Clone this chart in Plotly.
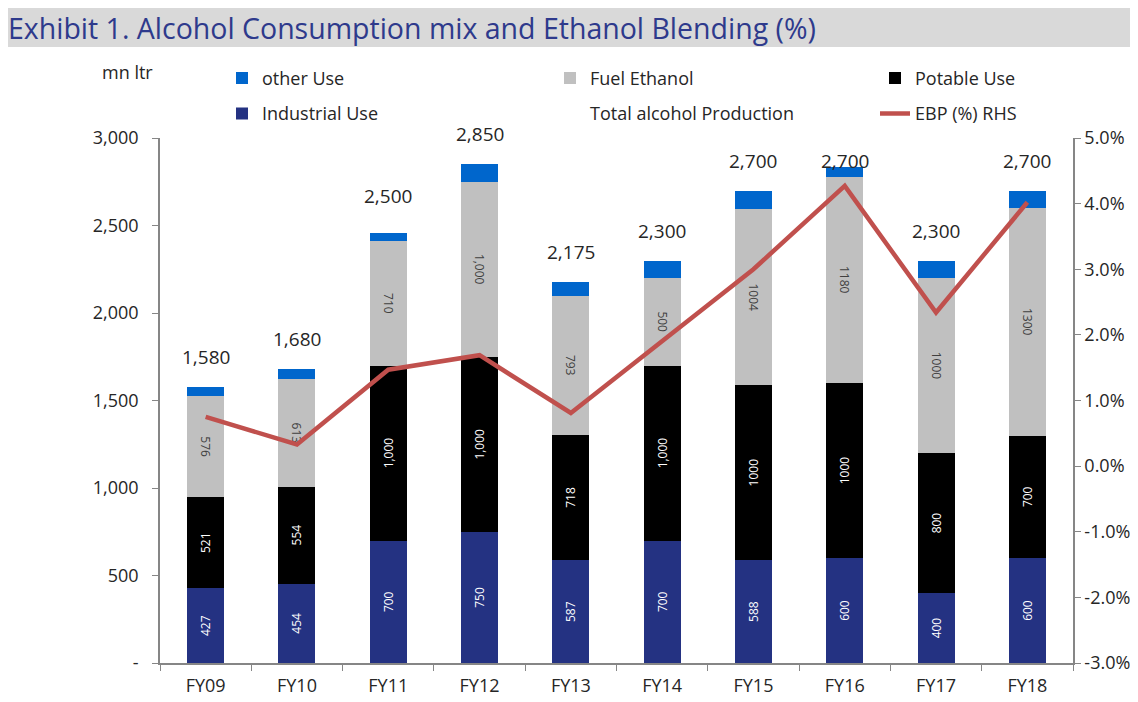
import plotly.graph_objects as go

# ---------------- data ----------------
categories = ["FY09", "FY10", "FY11", "FY12", "FY13", "FY14", "FY15", "FY16", "FY17", "FY18"]
industrial_use = [427, 454, 700, 750, 587, 700, 588, 600, 400, 600]
potable_use = [521, 554, 1000, 1000, 718, 1000, 1000, 1000, 800, 700]
fuel_ethanol = [576, 613, 710, 1000, 793, 500, 1004, 1180, 1000, 1300]
other_use = [56, 59, 45, 100, 77, 100, 108, 54, 100, 100]
total_production = [1580, 1680, 2500, 2850, 2175, 2300, 2700, 2700, 2300, 2700]
ebp_pct = [0.75, 0.33, 1.47, 1.69, 0.81, 1.91, 3.00, 4.27, 2.34, 4.02]

industrial_labels = ["427", "454", "700", "750", "587", "700", "588", "600", "400", "600"]
potable_labels = ["521", "554", "1,000", "1,000", "718", "1,000", "1000", "1000", "800", "700"]
fuel_labels = ["576", "613", "710", "1,000", "793", "500", "1004", "1180", "1000", "1300"]

left_tickvals = [0, 500, 1000, 1500, 2000, 2500, 3000]
left_ticktext = ["-", "500", "1,000", "1,500", "2,000", "2,500", "3,000"]
right_tickvals = [-3, -2, -1, 0, 1, 2, 3, 4, 5]
right_ticktext = ["-3.0%", "-2.0%", "-1.0%", "0.0%", "1.0%", "2.0%", "3.0%", "4.0%", "5.0%"]

# ---------------- styles ----------------
FONT = "Open Sans"
C_IND = "#243282"
C_POT = "#000000"
C_FUEL = "#C0C0C0"
C_OTHER = "#0066CC"
C_LINE = "#C0504D"
AXIS = "#868686"
TXT = "#262626"

fig = go.Figure()

fig.add_trace(go.Bar(
    name="Industrial Use", x=categories, y=industrial_use, text=industrial_labels,
    marker=dict(color=C_IND, line=dict(width=0)), textposition="inside",
    insidetextanchor="middle", textangle=-90, constraintext="none",
    textfont=dict(family=FONT, size=12, color="white"),
    legend="legend", legendgroup="ind", legendrank=2,
))
fig.add_trace(go.Bar(
    name="Potable Use", x=categories, y=potable_use, text=potable_labels,
    marker=dict(color=C_POT, line=dict(width=0)), textposition="inside",
    insidetextanchor="middle", textangle=-90, constraintext="none",
    textfont=dict(family=FONT, size=12, color="white"),
    legend="legend3", legendgroup="pot", legendrank=1,
))
fig.add_trace(go.Bar(
    name="Fuel Ethanol", x=categories, y=fuel_ethanol, text=fuel_labels,
    marker=dict(color=C_FUEL, line=dict(width=0)), textposition="inside",
    insidetextanchor="middle", textangle=90, constraintext="none",
    textfont=dict(family=FONT, size=12, color="#404040"),
    legend="legend2", legendgroup="fuel", legendrank=1,
))
fig.add_trace(go.Bar(
    name="other Use", x=categories, y=other_use,
    marker=dict(color=C_OTHER, line=dict(width=0)), textposition="none",
    legend="legend", legendgroup="oth", legendrank=1,
))
fig.add_trace(go.Scatter(
    name="Total alcohol Production", x=categories, y=total_production,
    mode="lines", line=dict(width=0, color="rgba(0,0,0,0)"),
    legend="legend2", legendgroup="tot", legendrank=2,
))
fig.add_trace(go.Scatter(
    name="EBP (%) RHS", x=categories, y=ebp_pct, yaxis="y2",
    mode="lines", line=dict(color=C_LINE, width=4.5),
    legend="legend3", legendgroup="ebp", legendrank=2,
))

# total labels above the bars (positioned by data coordinates)
for cat, tot in zip(categories, total_production):
    fig.add_annotation(
        x=cat, y=tot, xref="x", yref="y", text=f"{tot:,}", showarrow=False,
        yshift=30, font=dict(family=FONT, size=19, color=TXT),
    )

# unit label
fig.add_annotation(
    x=-0.036, y=1.1257, xref="paper", yref="paper", text="mn ltr", showarrow=False,
    xanchor="center", yanchor="middle", font=dict(family=FONT, size=18, color=TXT),
)

# title banner
fig.add_shape(
    type="rect", xref="paper", yref="paper", x0=-0.17, x1=1.08, y0=1.1733, y1=1.2476,
    fillcolor="#D9D9D9", line=dict(width=0), layer="below",
)

# the page keeps an 8px body margin, so every position is shifted by 8px
W, H = 1130, 694
ML, MR, MT, MB = 152, 65, 130, 39

legend_common = dict(
    orientation="v", xanchor="left", yanchor="top", y=1.149,
    bgcolor="rgba(0,0,0,0)", borderwidth=0, tracegroupgap=9, traceorder="grouped",
    font=dict(family=FONT, size=18, color=TXT),
)

fig.update_layout(
    width=W, height=H,
    margin=dict(l=ML, r=MR, t=MT, b=MB, autoexpand=False),
    paper_bgcolor="white", plot_bgcolor="white",
    barmode="stack", bargap=0.595,
    font=dict(family=FONT, size=18, color=TXT),
    title=dict(
        text="Exhibit 1. Alcohol Consumption mix and Ethanol Blending (%)",
        x=0, xanchor="left", xref="container",
        y=1 - 21 / H, yanchor="middle", yref="container",
        font=dict(family=FONT, size=28.5, color="#2E3A8C"),
    ),
    xaxis=dict(
        type="category", showline=True, linecolor=AXIS, linewidth=1.5,
        ticks="outside", tickson="boundaries", ticklen=6, tickcolor=AXIS,
        tickfont=dict(family=FONT, size=18, color=TXT), showgrid=False,
        range=[-0.5, 9.5], ticklabelstandoff=6, automargin=False,
    ),
    yaxis=dict(
        range=[0, 3000], tickvals=left_tickvals, ticktext=left_ticktext,
        showline=True, linecolor=AXIS, linewidth=1.5, ticks="outside", ticklen=6,
        tickcolor=AXIS, showgrid=False, zeroline=False, ticklabelstandoff=10,
        tickfont=dict(family=FONT, size=18, color=TXT), automargin=False,
    ),
    yaxis2=dict(
        range=[-3, 5], tickvals=right_tickvals, ticktext=right_ticktext,
        overlaying="y", side="right", showline=True, linecolor=AXIS, linewidth=1.5,
        ticks="outside", ticklen=6, tickcolor=AXIS, showgrid=False, zeroline=False,
        tickfont=dict(family=FONT, size=18, color=TXT), automargin=False,
    ),
    legend=dict(x=(214 - ML) / 913, **legend_common),
    legend2=dict(x=(542 - ML) / 913, **legend_common),
    legend3=dict(x=(867 - ML) / 913, **legend_common),
    showlegend=True,
)

fig.write_html("out.html")
